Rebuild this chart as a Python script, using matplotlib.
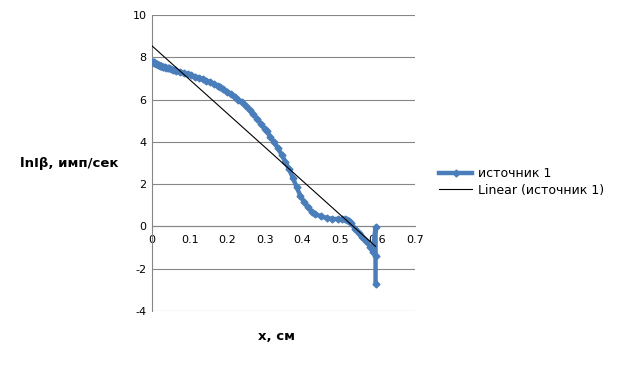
import numpy as np
import matplotlib
matplotlib.use("Agg")
import matplotlib.pyplot as plt

x_vals = [0.0, 0.002, 0.004, 0.006, 0.008, 0.01, 0.012, 0.015, 0.018, 0.02, 0.023,
          0.025, 0.028, 0.03, 0.034, 0.038, 0.042, 0.046, 0.05, 0.055, 0.06, 0.065,
          0.075, 0.085, 0.095, 0.105, 0.115, 0.125, 0.135, 0.145, 0.155, 0.165, 0.175,
          0.18, 0.19, 0.2, 0.21, 0.22, 0.23, 0.24, 0.25, 0.26, 0.27, 0.28, 0.29, 0.3,
          0.305, 0.315, 0.325, 0.335, 0.345, 0.355, 0.365, 0.375, 0.385, 0.395, 0.405,
          0.415, 0.425, 0.435, 0.45, 0.465, 0.48, 0.495, 0.505, 0.515, 0.52, 0.525,
          0.53, 0.54, 0.55, 0.56, 0.57, 0.58, 0.587, 0.595, 0.595, 0.595]
y_vals = [7.8, 7.79, 7.77, 7.74, 7.71, 7.68, 7.66, 7.64, 7.62, 7.6, 7.58,
          7.57, 7.56, 7.55, 7.53, 7.51, 7.49, 7.47, 7.45, 7.42, 7.4, 7.37,
          7.32, 7.27, 7.22, 7.16, 7.09, 7.03, 6.97, 6.9, 6.83, 6.75, 6.66,
          6.6, 6.5, 6.38, 6.27, 6.14, 6.0, 5.87, 5.7, 5.5, 5.3, 5.08, 4.85, 4.62,
          4.5, 4.25, 3.98, 3.7, 3.4, 3.05, 2.7, 2.3, 1.85, 1.45, 1.15,
          0.9, 0.7, 0.58, 0.48, 0.4, 0.35, 0.35, 0.35, 0.34, 0.3, 0.25,
          0.15, -0.1, -0.3, -0.5, -0.7, -0.95, -1.2, -0.05, -1.4, -2.7]

series_name = "источник 1"
trend_name = "Linear (источник 1)"
y_ticks = [-4, -2, 0, 2, 4, 6, 8, 10]
y_labels = ["-4", "-2", "0", "2", "4", "6", "8", "10"]
x_ticks = [0, 0.1, 0.2, 0.3, 0.4, 0.5, 0.6, 0.7]
x_labels = ["0", "0.1", "0.2", "0.3", "0.4", "0.5", "0.6", "0.7"]

fig = plt.figure(figsize=(6.17, 3.65), dpi=100)
ax = fig.add_axes([152/617, 1-311/365, (415-152)/617, (311-15)/365])

blue = "#4a7ebb"
ax.plot(x_vals, y_vals, color=blue, lw=3.2, marker="D", ms=3.5, mec=blue, mfc=blue,
        label=series_name, zorder=3)

coef = np.polyfit(x_vals, y_vals, 1)
xf = np.array([min(x_vals), max(x_vals)])
ax.plot(xf, np.polyval(coef, xf), color="black", lw=0.8, label=trend_name, zorder=4)

ax.set_xlim(0, 0.7)
ax.set_ylim(-4, 10)
ax.set_yticks(y_ticks)
ax.set_yticklabels(y_labels)
ax.set_xticks(x_ticks)
ax.set_xticklabels(x_labels)
ax.grid(axis="y", color="#868686", lw=0.8)
ax.set_axisbelow(True)
for s in ["top", "right"]:
    ax.spines[s].set_visible(False)
ax.spines["bottom"].set_position(("data", 0))
ax.spines["bottom"].set_color("#868686")
ax.spines["left"].set_color("#868686")
ax.tick_params(axis="both", length=0, labelsize=8, colors="black", pad=4)
ax.tick_params(axis="x", pad=6)

fig.text(20/617, 1-164/365, "lnIβ, имп/сек", fontsize=9.5, fontweight="bold", va="center", ha="left")
fig.text(277/617, 1-337/365, "x, см", fontsize=9.5, fontweight="bold", va="center", ha="center")

leg = ax.legend(loc="center left", bbox_to_anchor=(428/617, 1-182/365),
                bbox_transform=fig.transFigure, frameon=False, fontsize=9,
                handlelength=2.6, labelspacing=0.3, handletextpad=0.5)

fig.savefig("out.png", dpi=100)
